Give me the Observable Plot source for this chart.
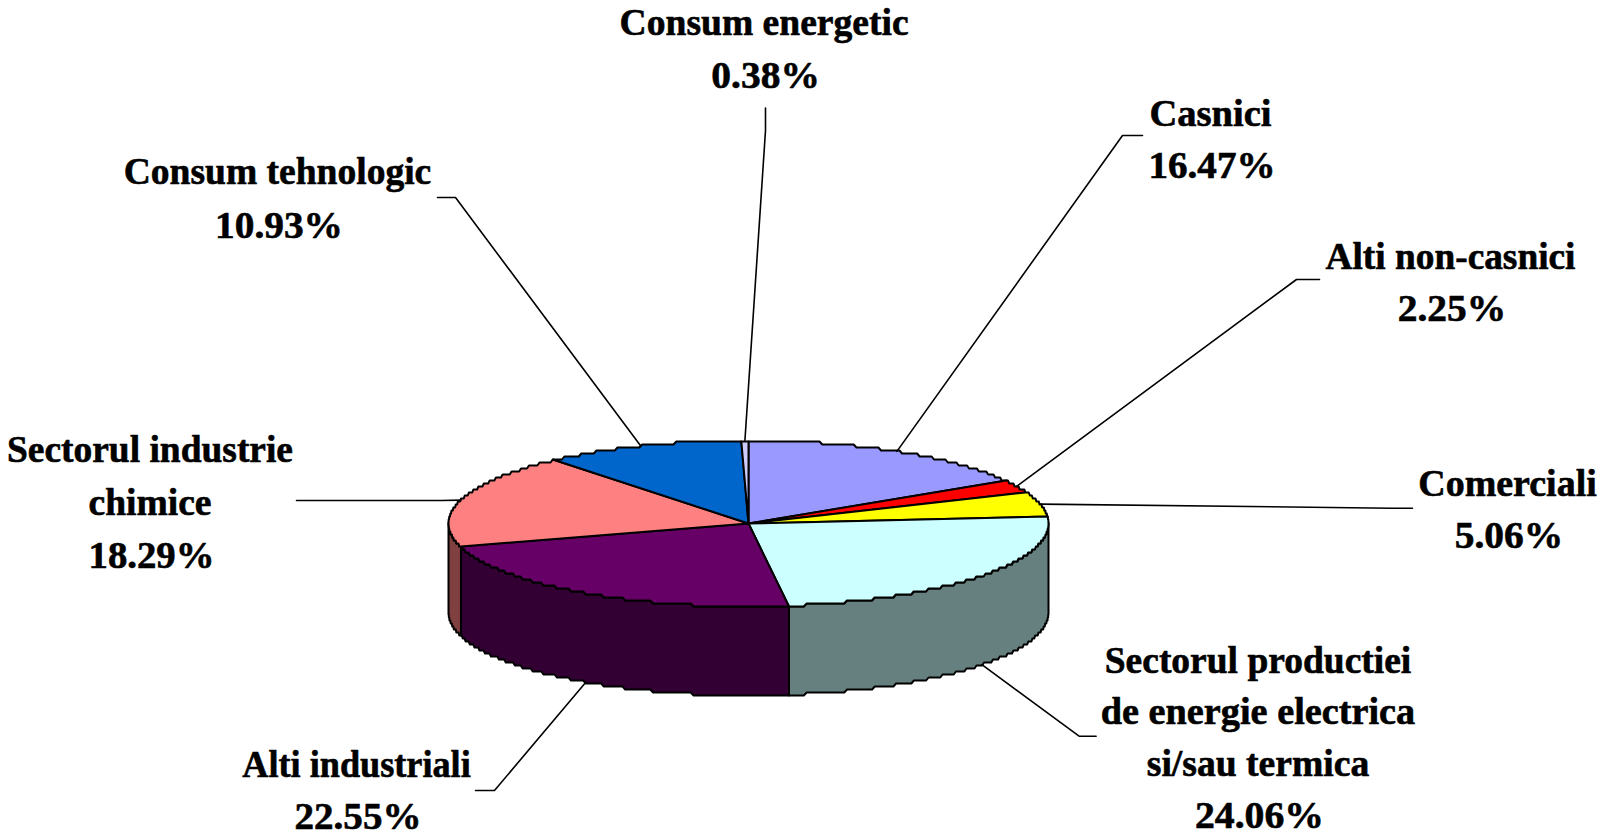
<!DOCTYPE html>
<html>
<head>
<meta charset="utf-8">
<title>Consum</title>
<style>
  html, body { margin: 0; padding: 0; background: #fff; overflow: hidden; }
  svg { display: block; }
</style>
<script src="https://cdn.jsdelivr.net/npm/d3@7"></script>
<script src="https://cdn.jsdelivr.net/npm/@observablehq/plot@0.6"></script>
</head>
<body>
<div id="chart"></div>
<script>
// ---- data ----
const categories = ["Casnici", "Alti non-casnici", "Comerciali",
  "Sectorul productiei de energie electrica si/sau termica", "Alti industriali",
  "Sectorul industrie chimice", "Consum tehnologic", "Consum energetic"];
const values = [16.47, 2.25, 5.06, 24.06, 22.55, 18.29, 10.93, 0.38];
const topColors = ["#9999FF", "#FF0000", "#FFFF00", "#CCFFFF", "#660066", "#FF8080", "#0066CC", "#CCCCFF"];
const sideColors = ["#4D4D80", "#800000", "#808000", "#668080", "#330033", "#804040", "#003366", "#666680"];
const labelLines = [
  ["Casnici"], ["Alti non-casnici"], ["Comerciali"],
  ["Sectorul productiei", "de energie electrica", "si/sau termica"],
  ["Alti industriali"], ["Sectorul industrie", "chimice"],
  ["Consum tehnologic"], ["Consum energetic"]
];

// ---- layout (pixels) ----
const W = 1607, H = 839;
const pie = {cx: 748, cy: 523, rx: 300, ry: 83, depth: 89};
const rimGrid = 3;                       // the reference rim is stepped, like an enlarged bitmap
const labelCx = [1210, 1450, 1507, 1257.5, 356, 149.5, 277, 763.6];
const labelBase = [125, 268.5, 495, 672, 776, 461, 183, 34];
const lineGap = [52, 52, 52, 51.7, 52, 53, 54, 53];
const percentShift = 1.5;
// measured width of every text line, the percentage line last
const lineWidths = [
  [122, 127], [250, 108.5], [178.5, 108.5],
  [306.5, 314.5, 222.5, 129], [228.5, 127], [286, 123, 126],
  [307.5, 128], [289, 108.5]
];
const elbows = [
  [[1142, 135], [1122, 135]],
  [[1319, 279], [1296, 279]],
  [[1412, 507.7], [1391, 507.7]],
  [[1095.6, 735.7], [1078.6, 735.7]],
  [[475, 790], [494, 790]],
  [[296, 500], [441, 500]],
  [[437, 197], [455, 197]],
  [[765, 107.6], [765, 130]]
];
const fontSize = 38;

// ---- geometry from the values ----
const total = d3.sum(values);
const cum = d3.cumsum(values);
const angle = p => p / total * 2 * Math.PI;
const px = t => pie.cx + pie.rx * Math.sin(t);
const py = t => pie.cy - pie.ry * Math.cos(t);
const snap = v => Math.round(v / rimGrid) * rimGrid;
const arc = (a, b) => {
  const n = Math.max(2, Math.ceil((b - a) / 0.01));
  return d3.range(n + 1).map(i => a + (b - a) * i / n);
};
const rimPoint = (t, dy = 0) => ({x: px(t), y: snap(py(t)) + dy});

const sides = [], tops = [], leaders = [], texts = [];
values.forEach((v, i) => {
  const a = angle(cum[i] - v), b = angle(cum[i]);
  const top = [{x: pie.cx, y: pie.cy}, ...arc(a, b).map(t => rimPoint(t))];
  top.forEach(p => tops.push({...p, key: categories[i], fill: topColors[i]}));

  // wall: only the part of the rim that faces the viewer
  const a2 = Math.max(a, Math.PI / 2), b2 = Math.min(b, 3 * Math.PI / 2);
  if (b2 > a2) {
    const rim = arc(a2, b2);
    const wall = [...rim.map(t => rimPoint(t)),
                  ...rim.slice().reverse().map(t => rimPoint(t, pie.depth))];
    wall.forEach(p => sides.push({...p, key: categories[i], fill: sideColors[i]}));
  }

  // leader: label end, elbow, then the middle of the slice rim
  const mid = (a + b) / 2;
  const onWall = py(mid) > pie.cy + 40;
  const end = {x: px(mid), y: py(mid) + (onWall ? pie.depth : 0)};
  [...elbows[i].map(([x, y]) => ({x, y})), end].forEach(p => leaders.push({...p, key: categories[i]}));

  // text
  const lines = [...labelLines[i], v.toFixed(2) + "%"];
  lines.forEach((s, k) => texts.push({
    x: labelCx[i] + (k === lines.length - 1 ? percentShift : 0),
    y: labelBase[i] + k * lineGap[i], s, w: lineWidths[i][k]
  }));
});

const chart = Plot.plot({
  width: W, height: H,
  margin: 0,
  x: {domain: [0, W], range: [0, W], axis: null},
  y: {domain: [0, H], range: [0, H], axis: null},
  color: {type: "identity"},
  marks: [
    Plot.line(sides, {x: "x", y: "y", z: "key", fill: "fill", stroke: "#000", strokeWidth: 2, curve: "linear-closed"}),
    Plot.line(tops, {x: "x", y: "y", z: "key", fill: "fill", stroke: "#000", strokeWidth: 2, curve: "linear-closed"}),
    Plot.line(leaders, {x: "x", y: "y", z: "key", stroke: "#000", strokeWidth: 1.6, curve: "linear"}),
    Plot.text(texts, {
      x: "x", y: "y", text: "s", textAnchor: "middle", lineAnchor: "bottom",
      fontFamily: "'Liberation Serif', 'Times New Roman', serif", fontWeight: "bold",
      fontSize, fill: "#000", stroke: "#000", strokeWidth: 0.6
    })
  ]
});
// fit each text line to its measured width
const widthByLine = new Map(texts.map(t => [t.s, t.w]));
d3.select(chart).selectAll("text").each(function () {
  const w = widthByLine.get(this.textContent);
  if (w) d3.select(this).attr("textLength", w).attr("lengthAdjust", "spacingAndGlyphs");
});
document.getElementById("chart").appendChild(chart);
</script>
</body>
</html>
